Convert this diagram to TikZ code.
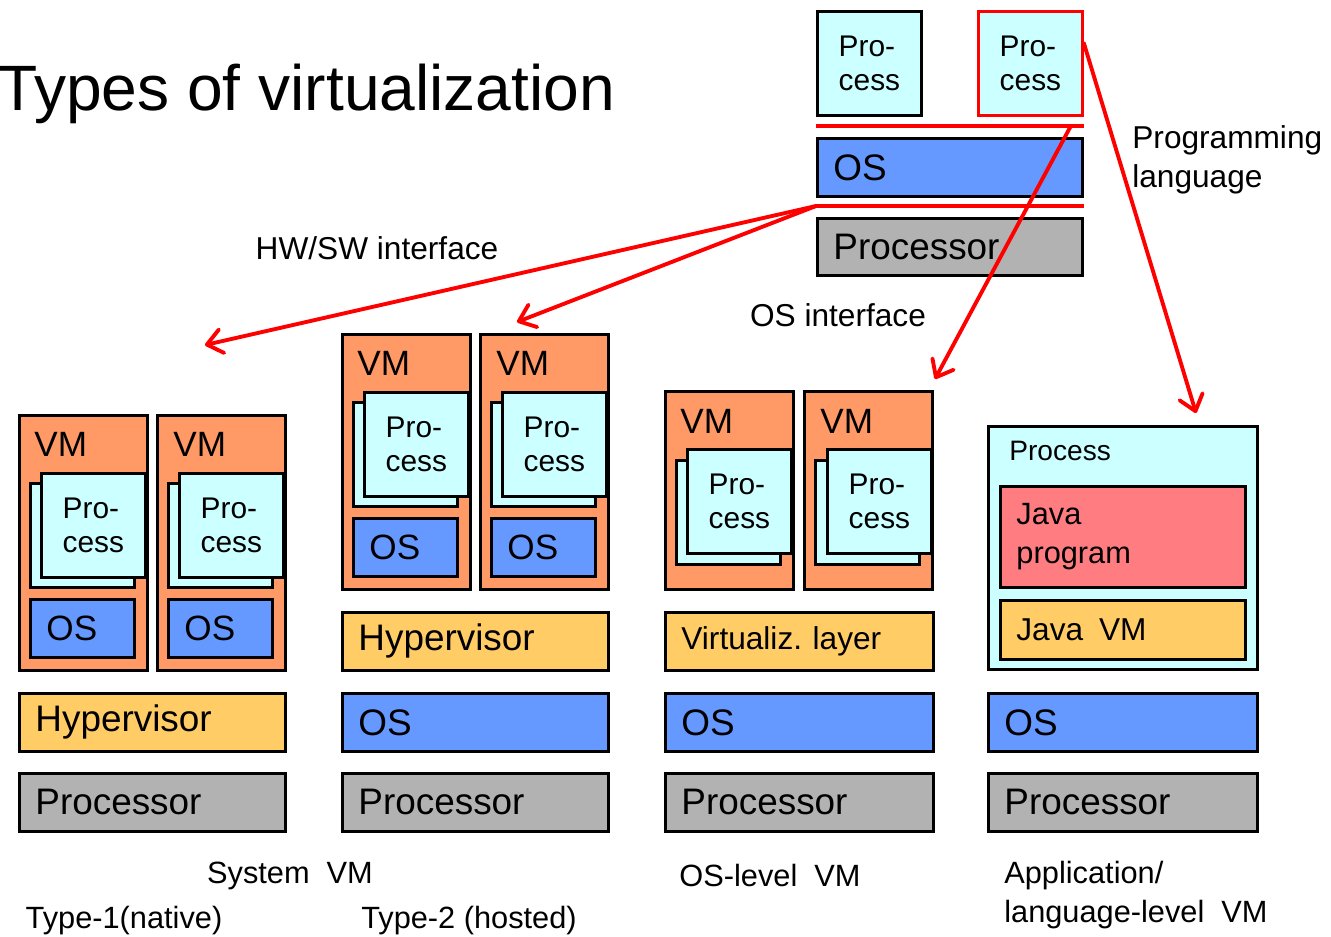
\documentclass[tikz,border=0pt]{standalone}
\usepackage{fontspec}
\setmainfont{Liberation Sans}
\usetikzlibrary{arrows.meta,calc}
\definecolor{vmorange}{RGB}{255,153,102}
\definecolor{proccyan}{RGB}{204,255,255}
\definecolor{osblue}{RGB}{102,153,255}
\definecolor{cpugray}{RGB}{178,178,178}
\definecolor{hvyellow}{RGB}{255,204,102}
\definecolor{javared}{RGB}{255,124,128}
\definecolor{ifred}{RGB}{255,0,0}
\tikzset{
	box/.style={draw=black,line width=1.6pt,anchor=north west,inner sep=0pt},
	layer/.style={box,minimum width=5.32cm,minimum height=1.16cm,text width=4.68cm,
		inner xsep=0.32cm,align=left,font=\fontsize{21}{25}\selectfont},
	vmbox/.style={box,fill=vmorange,minimum width=2.56cm},
	vmtag/.style={anchor=west,inner sep=0pt,font=\fontsize{20}{24}\selectfont},
	procbox/.style={box,fill=proccyan,minimum width=2.08cm,minimum height=2.08cm,
		align=left,font=\fontsize{17}{19.5}\selectfont},
	guestos/.style={box,fill=osblue,minimum width=2.08cm,minimum height=1.16cm,
		text width=1.44cm,inner xsep=0.32cm,align=left,font=\fontsize{20}{24}\selectfont},
	iface/.style={draw=ifred,line width=2.2pt},
	ifarrow/.style={iface,line cap=round,-{Straight Barb[length=3mm,width=4.8mm,round]}},
	note/.style={inner sep=0pt,align=left,font=\fontsize{18}{22.5}\selectfont},
	caption/.style={inner sep=0pt,align=left,font=\fontsize{17.5}{22}\selectfont},
}

\begin{document}
\begin{tikzpicture}
	\useasboundingbox (0,0) rectangle (26.62,-18.72);
	\node[anchor=base west,inner sep=0pt,font=\fontsize{36.5}{40}\selectfont] (title)
	at (-0.04,-2.20) {Types of virtualization};
	
	% reference stack with its interfaces
	\node[procbox] (procA) at (16.32,-0.20) {Pro-\\cess};
	\node[procbox,draw=ifred] (procB) at (19.54,-0.20) {Pro-\\cess};
	\node[layer,fill=osblue,minimum width=5.30cm,text width=4.66cm] (osTop) at (16.32,-2.74) {OS};
	\node[layer,fill=cpugray,minimum width=5.30cm,text width=4.66cm,minimum height=1.14cm]
	(cpuTop) at (16.32,-4.34) {Processor};
	\coordinate (apiL) at ($(osTop.north west)+(0,0.22)$);
	\coordinate (apiR) at ($(osTop.north east)+(0,0.22)$);
	\coordinate (apiS) at ($(osTop.north east)+(-0.26,0.22)$);
	\coordinate (isaL) at ($(cpuTop.north west)+(0,0.22)$);
	\coordinate (isaR) at ($(cpuTop.north east)+(0,0.22)$);
	\draw[iface] (apiL) -- (apiR);
	\draw[iface] (isaL) -- (isaR);
	
	% system VM, type 1
	\node[vmbox,minimum height=5.10cm] (vm11) at (0.36,-8.28) {};
	\node[vmbox,minimum height=5.10cm] (vm12) at (3.12,-8.28) {};
	\node[vmtag] (vm11t) at ($(vm11.north west)+(0.32,-0.60)$) {VM};
	\node[vmtag] (vm12t) at ($(vm12.north west)+(0.34,-0.60)$) {VM};
	\node[procbox] (vm11b) at ($(vm11.north west)+(0.22,-1.36)$) {};
	\node[procbox] (vm11p) at ($(vm11.north west)+(0.44,-1.16)$) {Pro-\\cess};
	\node[procbox] (vm12b) at ($(vm12.north west)+(0.22,-1.36)$) {};
	\node[procbox] (vm12p) at ($(vm12.north west)+(0.44,-1.16)$) {Pro-\\cess};
	\node[guestos] (vm11os) at ($(vm11.north west)+(0.22,-3.68)$) {OS};
	\node[guestos] (vm12os) at ($(vm12.north west)+(0.22,-3.68)$) {OS};
	\node[layer,fill=hvyellow] (hyp1) at (0.36,-13.84) {Hypervisor};
	\node[layer,fill=cpugray] (cpu1) at (0.36,-15.44) {Processor};
	
	% system VM, type 2
	\node[vmbox,minimum height=5.10cm] (vm21) at (6.82,-6.66) {};
	\node[vmbox,minimum height=5.10cm] (vm22) at (9.58,-6.66) {};
	\node[vmtag] (vm21t) at ($(vm21.north west)+(0.32,-0.60)$) {VM};
	\node[vmtag] (vm22t) at ($(vm22.north west)+(0.34,-0.60)$) {VM};
	\node[procbox] (vm21b) at ($(vm21.north west)+(0.22,-1.36)$) {};
	\node[procbox] (vm21p) at ($(vm21.north west)+(0.44,-1.16)$) {Pro-\\cess};
	\node[procbox] (vm22b) at ($(vm22.north west)+(0.22,-1.36)$) {};
	\node[procbox] (vm22p) at ($(vm22.north west)+(0.44,-1.16)$) {Pro-\\cess};
	\node[guestos] (vm21os) at ($(vm21.north west)+(0.22,-3.68)$) {OS};
	\node[guestos] (vm22os) at ($(vm22.north west)+(0.22,-3.68)$) {OS};
	\node[layer,fill=hvyellow] (hyp2) at (6.82,-12.22) {Hypervisor};
	\node[layer,fill=osblue] (os2) at (6.82,-13.84) {OS};
	\node[layer,fill=cpugray] (cpu2) at (6.82,-15.44) {Processor};
	
	% OS-level VM
	\node[vmbox,minimum height=3.96cm] (vm31) at (13.28,-7.80) {};
	\node[vmbox,minimum height=3.96cm] (vm32) at (16.06,-7.80) {};
	\node[vmtag] (vm31t) at ($(vm31.north west)+(0.32,-0.62)$) {VM};
	\node[vmtag] (vm32t) at ($(vm32.north west)+(0.34,-0.62)$) {VM};
	\node[procbox] (vm31b) at ($(vm31.north west)+(0.22,-1.38)$) {};
	\node[procbox] (vm31p) at ($(vm31.north west)+(0.44,-1.16)$) {Pro-\\cess};
	\node[procbox] (vm32b) at ($(vm32.north west)+(0.22,-1.38)$) {};
	\node[procbox] (vm32p) at ($(vm32.north west)+(0.46,-1.16)$) {Pro-\\cess};
	\node[layer,fill=hvyellow,minimum width=5.36cm,text width=4.72cm,
	font=\fontsize{18}{22}\selectfont] (virt) at (13.28,-12.22) {Virtualiz.\ layer};
	\node[layer,fill=osblue,minimum width=5.36cm,text width=4.72cm] (os3) at (13.28,-13.84) {OS};
	\node[layer,fill=cpugray,minimum width=5.36cm,text width=4.72cm] (cpu3) at (13.28,-15.44) {Processor};
	
	% application / language-level VM
	\node[box,fill=proccyan,minimum width=5.38cm,minimum height=4.86cm] (appProc) at (19.74,-8.50) {};
	\node[anchor=west,inner sep=0pt,font=\fontsize{16}{19}\selectfont] (appProcT)
	at ($(appProc.north west)+(0.44,-0.52)$) {Process};
	\node[layer,fill=javared,minimum width=4.90cm,text width=4.26cm,minimum height=2.02cm,
	font=\fontsize{17.5}{22}\selectfont] (javaProg) at (19.98,-9.70) {Java\\program};
	\node[layer,fill=hvyellow,minimum width=4.90cm,text width=4.26cm,minimum height=1.18cm,
	font=\fontsize{18}{22}\selectfont] (javaVM) at (19.98,-11.98) {Java\,\ VM};
	\node[layer,fill=osblue,minimum width=5.38cm,text width=4.74cm] (os4) at (19.74,-13.84) {OS};
	\node[layer,fill=cpugray,minimum width=5.38cm,text width=4.74cm] (cpu4) at (19.74,-15.44) {Processor};
	
	% interface arrows
	\coordinate (hwA) at (4.10,-6.90);
	\coordinate (hwB) at (10.34,-6.44);
	\coordinate (osA) at (18.70,-7.58);
	\coordinate (plA) at (23.92,-8.26);
	\draw[ifarrow] (isaL) -- (hwA);
	\draw[ifarrow] (isaL) -- (hwB);
	\draw[ifarrow] (apiS) -- (osA);
	\draw[ifarrow] ($(procB.north east)+(0,-0.66)$) -- (plA);
	\node[note] (hwswLbl) at (7.54,-4.96) {HW/SW interface};
	\node[note] (osLbl) at (16.76,-6.30) {OS interface};
	\node[note,anchor=west] (plLbl) at (22.64,-3.20) {Programming\\language};
	
	% captions
	\node[caption] (sysCap) at (5.80,-17.52) {System~ VM};
	\node[caption] (t1Cap) at (2.48,-18.42) {Type-1(native)};
	\node[caption] (t2Cap) at (9.38,-18.42) {Type-2 (hosted)};
	\node[caption] (oslCap) at (15.40,-17.50) {OS-level~ VM};
	\node[caption,anchor=west] (appCap) at (20.08,-17.90) {Application/\\language-level~ VM};
\end{tikzpicture}
\end{document}
